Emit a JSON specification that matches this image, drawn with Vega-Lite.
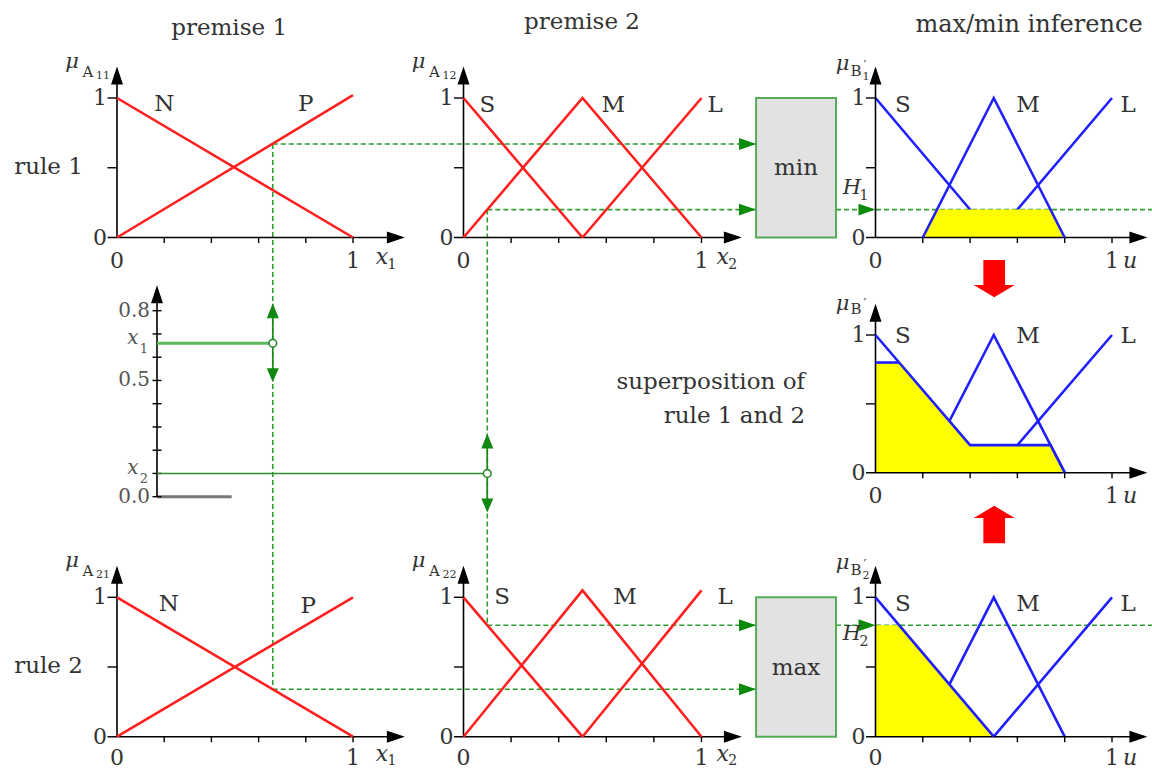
{
"$schema": "https://vega.github.io/schema/vega-lite/v6.json",
"width": 1152, "height": 770, "padding": 0, "autosize": {"type": "none"},
"background": "white",
"config": {"view": {"stroke": null}, "text": {"font": "DejaVu Serif", "fontSize": 23, "color": "#333"}},
"resolve": {"scale": {"x": "independent", "y": "independent"}},
"datasets": {
 "axP1": [
  {"k":"line","x":-0.04,"y":0,"x2":1.19,"y2":0},
  {"k":"line","x":0,"y":0,"x2":0,"y2":1.19},
  {"k":"glyph","g":"xhead","x":1.21,"y":0},
  {"k":"glyph","g":"yhead","x":0,"y":1.21},
  {"k":"glyph","g":"xtick","x":0.2,"y":0},{"k":"glyph","g":"xtick","x":0.4,"y":0},
  {"k":"glyph","g":"xtick","x":0.6,"y":0},{"k":"glyph","g":"xtick","x":0.8,"y":0},
  {"k":"glyph","g":"xtick","x":1,"y":0},
  {"k":"glyph","g":"ytick","x":0,"y":0.5},{"k":"glyph","g":"ytick","x":0,"y":1},
  {"k":"xl","x":0,"y":0,"t":"0"},{"k":"xl","x":1,"y":0,"t":"1"},
  {"k":"yl","x":0,"y":0,"t":"0"},{"k":"yl","x":0,"y":1,"t":"1"},
  {"k":"name","x":1.123,"y":0,"t":"x","s":"1"}
 ],
 "axP2": [
  {"k":"line","x":-0.04,"y":0,"x2":1.145,"y2":0},
  {"k":"line","x":0,"y":0,"x2":0,"y2":1.19},
  {"k":"glyph","g":"xhead","x":1.16,"y":0},
  {"k":"glyph","g":"yhead","x":0,"y":1.21},
  {"k":"glyph","g":"xtick","x":0.2,"y":0},{"k":"glyph","g":"xtick","x":0.4,"y":0},
  {"k":"glyph","g":"xtick","x":0.6,"y":0},{"k":"glyph","g":"xtick","x":0.8,"y":0},
  {"k":"glyph","g":"xtick","x":1,"y":0},
  {"k":"glyph","g":"ytick","x":0,"y":0.5},{"k":"glyph","g":"ytick","x":0,"y":1},
  {"k":"xl","x":0,"y":0,"t":"0"},{"k":"xl","x":1,"y":0,"t":"1"},
  {"k":"yl","x":0,"y":0,"t":"0"},{"k":"yl","x":0,"y":1,"t":"1"},
  {"k":"name","x":1.089,"y":0,"t":"x","s":"2"}
 ],
 "axU": [
  {"k":"line","x":-0.04,"y":0,"x2":1.125,"y2":0},
  {"k":"line","x":0,"y":0,"x2":0,"y2":1.19},
  {"k":"glyph","g":"xhead","x":1.14,"y":0},
  {"k":"glyph","g":"yhead","x":0,"y":1.21},
  {"k":"glyph","g":"xtick","x":0.2,"y":0},{"k":"glyph","g":"xtick","x":0.4,"y":0},
  {"k":"glyph","g":"xtick","x":0.6,"y":0},{"k":"glyph","g":"xtick","x":0.8,"y":0},
  {"k":"glyph","g":"xtick","x":1,"y":0},
  {"k":"glyph","g":"ytick","x":0,"y":0.5},{"k":"glyph","g":"ytick","x":0,"y":1},
  {"k":"xl","x":0,"y":0,"t":"0"},{"k":"xl","x":1,"y":0,"t":"1"},
  {"k":"yl","x":0,"y":0,"t":"0"},{"k":"yl","x":0,"y":1,"t":"1"},
  {"k":"name","x":1.076,"y":-0.03,"t":"u","s":""}
 ],
 "p1r1": [
  {"k":"link","x":0.66,"y":0.67,"x2":0.66,"y2":-3.24},
  {"k":"link","x":0.66,"y":0.67,"x2":2.708,"y2":0.67},
  {"k":"tip","x":2.708,"y":0.67},
  {"k":"curve","c":"N","x":0,"y":1},{"k":"curve","c":"N","x":1,"y":0},
  {"k":"curve","c":"P","x":0,"y":0},{"k":"curve","c":"P","x":1,"y":1.02},
  {"k":"lab","t":"N","x":0.2,"y":0.96},{"k":"lab","t":"P","x":0.8,"y":0.96},
  {"k":"lab","t":"premise 1","x":0.475,"y":1.5},
  {"k":"lab","t":"rule 1","x":-0.29,"y":0.505},
  {"k":"mu","x":0,"y":1.21,"a":"A","b":"11"}
 ],
 "p1r2": [
  {"k":"link","x":0.66,"y":0.34,"x2":2.708,"y2":0.34},
  {"k":"tip","x":2.708,"y":0.34},
  {"k":"curve","c":"N","x":0,"y":1},{"k":"curve","c":"N","x":1,"y":0},
  {"k":"curve","c":"P","x":0,"y":0},{"k":"curve","c":"P","x":1,"y":1},
  {"k":"lab","t":"N","x":0.22,"y":0.955},{"k":"lab","t":"P","x":0.81,"y":0.94},
  {"k":"lab","t":"rule 2","x":-0.29,"y":0.507},
  {"k":"mu","x":0,"y":1.21,"a":"A","b":"21"}
 ],
 "p2r1": [
  {"k":"link","x":0.1,"y":0.2,"x2":0.1,"y2":-2.779},
  {"k":"link","x":0.1,"y":0.2,"x2":1.229,"y2":0.2},
  {"k":"tip","x":1.229,"y":0.2},
  {"k":"curve","c":"S","x":0,"y":1},{"k":"curve","c":"S","x":0.5,"y":0},
  {"k":"curve","c":"M","x":0,"y":0},{"k":"curve","c":"M","x":0.5,"y":1},{"k":"curve","c":"M","x":1,"y":0},
  {"k":"curve","c":"L","x":0.5,"y":0},{"k":"curve","c":"L","x":1,"y":1},
  {"k":"lab","t":"S","x":0.1,"y":0.95},{"k":"lab","t":"M","x":0.629,"y":0.95},{"k":"lab","t":"L","x":1.057,"y":0.95},
  {"k":"lab","t":"premise 2","x":0.498,"y":1.545},
  {"k":"mu","x":0,"y":1.21,"a":"A","b":"12"}
 ],
 "p2r2": [
  {"k":"link","x":0.1,"y":0.8,"x2":1.229,"y2":0.8},
  {"k":"tip","x":1.229,"y":0.8},
  {"k":"curve","c":"S","x":0,"y":1},{"k":"curve","c":"S","x":0.5,"y":0},
  {"k":"curve","c":"M","x":0,"y":0},{"k":"curve","c":"M","x":0.5,"y":1.05},{"k":"curve","c":"M","x":1,"y":0},
  {"k":"curve","c":"L","x":0.5,"y":0},{"k":"curve","c":"L","x":1,"y":1.05},
  {"k":"lab","t":"S","x":0.162,"y":1.0},{"k":"lab","t":"M","x":0.679,"y":1.0},{"k":"lab","t":"L","x":1.099,"y":1.0},
  {"k":"mu","x":0,"y":1.21,"a":"A","b":"22"}
 ],
 "or1": [
  {"k":"link","x":-0.167,"y":0.2,"x2":1.169,"y2":0.2},
  {"k":"tip","x":0,"y":0.2},
  {"k":"box","x":-0.505,"x2":-0.167,"y":0,"y2":1},
  {"k":"lab","t":"min","x":-0.336,"y":0.5},
  {"k":"under","c":"S","x":0,"y":1},{"k":"under","c":"S","x":0.5,"y":0},
  {"k":"under","c":"L","x":0.5,"y":0},{"k":"under","c":"L","x":1,"y":1},
  {"k":"fill","x":0.2,"y":0},{"k":"fill","x":0.26,"y":0.2},{"k":"fill","x":0.74,"y":0.2},{"k":"fill","x":0.8,"y":0},
  {"k":"over","c":"M","x":0.2,"y":0},{"k":"over","c":"M","x":0.5,"y":1},{"k":"over","c":"M","x":0.8,"y":0},
  {"k":"lab","t":"S","x":0.116,"y":0.95},{"k":"lab","t":"M","x":0.645,"y":0.95},{"k":"lab","t":"L","x":1.068,"y":0.95},
  {"k":"title","t":"max/min inference","x":0.649,"y":1.523},
  {"k":"mu","x":0,"y":1.21,"a":"B","b":"1"},
  {"k":"H","x":-0.1,"y":0.356,"s":"1"}
 ],
 "os": [
  {"k":"under","c":"M","x":0.2,"y":0},{"k":"under","c":"M","x":0.5,"y":1},{"k":"under","c":"M","x":0.8,"y":0},
  {"k":"under","c":"L","x":0.5,"y":0},{"k":"under","c":"L","x":1,"y":1},
  {"k":"fill","x":0,"y":0.8},{"k":"fill","x":0.1,"y":0.8},{"k":"fill","x":0.4,"y":0.2},{"k":"fill","x":0.74,"y":0.2},{"k":"fill","x":0.8,"y":0},
  {"k":"over","c":"cap","x":0,"y":0.8},{"k":"over","c":"cap","x":0.1,"y":0.8},
  {"k":"over","c":"S","x":0,"y":1},{"k":"over","c":"S","x":0.4,"y":0.2},{"k":"over","c":"S","x":0.74,"y":0.2},{"k":"over","c":"S","x":0.8,"y":0},
  {"k":"lab","t":"S","x":0.116,"y":0.99},{"k":"lab","t":"M","x":0.645,"y":0.99},{"k":"lab","t":"L","x":1.068,"y":0.99},
  {"k":"rlab","t":"superposition of","x":-0.298,"y":0.66},
  {"k":"rlab","t":"rule 1 and 2","x":-0.298,"y":0.41},
  {"k":"mu","x":0,"y":1.21,"a":"B","b":""},
  {"k":"down","x":0.502,"y":1.409},
  {"k":"up","x":0.502,"y":-0.376}
 ],
 "or2": [
  {"k":"link","x":-0.167,"y":0.8,"x2":1.169,"y2":0.8},
  {"k":"tip","x":0,"y":0.8},
  {"k":"box","x":-0.505,"x2":-0.167,"y":0,"y2":1},
  {"k":"lab","t":"max","x":-0.336,"y":0.49},
  {"k":"under","c":"M","x":0.2,"y":0},{"k":"under","c":"M","x":0.5,"y":1},{"k":"under","c":"M","x":0.8,"y":0},
  {"k":"under","c":"L","x":0.5,"y":0},{"k":"under","c":"L","x":1,"y":1},
  {"k":"fill","x":0,"y":0.8},{"k":"fill","x":0.1,"y":0.8},{"k":"fill","x":0.5,"y":0},
  {"k":"over","c":"S","x":0,"y":1},{"k":"over","c":"S","x":0.5,"y":0},
  {"k":"lab","t":"S","x":0.116,"y":0.955},{"k":"lab","t":"M","x":0.645,"y":0.955},{"k":"lab","t":"L","x":1.068,"y":0.955},
  {"k":"mu","x":0,"y":1.21,"a":"B","b":"2"},
  {"k":"H","x":-0.1,"y":0.739,"s":"2"}
 ],
 "slider": [
  {"k":"bar","x":0.1695,"y":0,"x2":0.486,"y2":0},
  {"k":"line","x":0.1695,"y":0,"x2":0.1695,"y2":0.88},
  {"k":"glyph","g":"yhead","x":0.1695,"y":0.9},
  {"k":"glyph","g":"stick","x":0.1695,"y":0},{"k":"glyph","g":"stick","x":0.1695,"y":0.1},
  {"k":"glyph","g":"stick","x":0.1695,"y":0.2},{"k":"glyph","g":"stick","x":0.1695,"y":0.3},
  {"k":"glyph","g":"stick","x":0.1695,"y":0.4},{"k":"glyph","g":"stick","x":0.1695,"y":0.5},
  {"k":"glyph","g":"stick","x":0.1695,"y":0.6},{"k":"glyph","g":"stick","x":0.1695,"y":0.7},
  {"k":"glyph","g":"stick","x":0.1695,"y":0.8},
  {"k":"yl","x":0.1695,"y":0.8,"t":"0.8"},{"k":"yl","x":0.1695,"y":0.5,"t":"0.5"},{"k":"yl","x":0.1695,"y":0,"t":"0.0"},
  {"k":"xin","x":0.1695,"y":0.66,"t":"x","s":"1"},{"k":"xin","x":0.1695,"y":0.1,"t":"x","s":"2"},
  {"k":"g1","x":0.1695,"y":0.66,"x2":0.66,"y2":0.66},
  {"k":"g2","x":0.1695,"y":0.1,"x2":1.569,"y2":0.1},
  {"k":"thumb","x":0.66,"y":0.66},{"k":"thumb","x":1.569,"y":0.1}
 ]
},
"layer": [
 {
  "encoding": {
   "x": {"field":"x","type":"quantitative","scale":{"domain":[0,1],"range":[117,353],"nice":false,"zero":false},"axis":null},
   "y": {"field":"y","type":"quantitative","scale":{"domain":[0,1],"range":[237.5,98],"nice":false,"zero":false},"axis":null}
  },
  "layer": [
   {"data":{"name":"p1r1"},"transform":[{"filter":"datum.k=='link'"}],"mark":{"type":"rule","color":"#2ca02c","strokeWidth":1.6,"strokeDash":[5,3]},"encoding":{"x2":{"field":"x2"},"y2":{"field":"y2"}}},
   {"data":{"name":"p1r1"},"transform":[{"filter":"datum.k=='tip'"}],"mark":{"type":"point","shape":"M0,0L-2,-0.7L-2,0.7Z","size":289,"filled":true,"color":"#0b8a0b","opacity":1}},
   {"data":{"name":"axP1"},"transform":[{"filter":"datum.k=='line'"}],"mark":{"type":"rule","color":"black","strokeWidth":1.6},"encoding":{"x2":{"field":"x2"},"y2":{"field":"y2"}}},
   {"data":{"name":"axP1"},"transform":[{"filter":"datum.k=='glyph'"}],"mark":{"type":"point","filled":true,"color":"black","stroke":"black","strokeWidth":1.4,"opacity":1,"size":100},"encoding":{"shape":{"field":"g","type":"nominal","legend":null,"scale":{"domain":["xhead","yhead","xtick","ytick","stick"],"range":["M0,0L-3,-1L-3,1Z","M0,0L-1,3L1,3Z","M0,0L0,1.1","M0,0L-1.9,0","M-0.9,0L0.9,0"]}}}},
   {"data":{"name":"axP1"},"transform":[{"filter":"datum.k=='xl'"}],"mark":{"type":"text","fontSize":22,"dy":23},"encoding":{"text":{"field":"t"}}},
   {"data":{"name":"axP1"},"transform":[{"filter":"datum.k=='yl'"}],"mark":{"type":"text","fontSize":22,"align":"right","dx":-10},"encoding":{"text":{"field":"t"}}},
   {"data":{"name":"axP1"},"transform":[{"filter":"datum.k=='name'"}],"mark":{"type":"text","fontSize":22,"fontStyle":"italic","dy":19},"encoding":{"text":{"field":"t"}}},
   {"data":{"name":"axP1"},"transform":[{"filter":"datum.k=='name'"}],"mark":{"type":"text","fontSize":14,"dx":10,"dy":27},"encoding":{"text":{"field":"s"}}},
   {"data":{"name":"p1r1"},"transform":[{"filter":"datum.k=='curve'"}],"mark":{"type":"line","color":"#ff1f1f","strokeWidth":2.6},"encoding":{"detail":{"field":"c"}}},
   {"data":{"name":"p1r1"},"transform":[{"filter":"datum.k=='lab'"}],"mark":{"type":"text"},"encoding":{"text":{"field":"t"}}},
   {"data":{"name":"p1r1"},"transform":[{"filter":"datum.k=='mu'"}],"mark":{"type":"text","text":"μ","fontStyle":"italic","fontSize":21,"dx":-45,"dy":-7}},
   {"data":{"name":"p1r1"},"transform":[{"filter":"datum.k=='mu'"}],"mark":{"type":"text","fontSize":15,"dx":-29,"dy":3},"encoding":{"text":{"field":"a"}}},
   {"data":{"name":"p1r1"},"transform":[{"filter":"datum.k=='mu'"}],"mark":{"type":"text","fontSize":11,"dx":-14,"dy":7},"encoding":{"text":{"field":"b"}}}
  ]
 },
 {
  "encoding": {
   "x": {"field":"x","type":"quantitative","scale":{"domain":[0,1],"range":[463.5,701.5],"nice":false,"zero":false},"axis":null},
   "y": {"field":"y","type":"quantitative","scale":{"domain":[0,1],"range":[237.5,98],"nice":false,"zero":false},"axis":null}
  },
  "layer": [
   {"data":{"name":"p2r1"},"transform":[{"filter":"datum.k=='link'"}],"mark":{"type":"rule","color":"#2ca02c","strokeWidth":1.6,"strokeDash":[5,3]},"encoding":{"x2":{"field":"x2"},"y2":{"field":"y2"}}},
   {"data":{"name":"p2r1"},"transform":[{"filter":"datum.k=='tip'"}],"mark":{"type":"point","shape":"M0,0L-2,-0.7L-2,0.7Z","size":289,"filled":true,"color":"#0b8a0b","opacity":1}},
   {"data":{"name":"axP2"},"transform":[{"filter":"datum.k=='line'"}],"mark":{"type":"rule","color":"black","strokeWidth":1.6},"encoding":{"x2":{"field":"x2"},"y2":{"field":"y2"}}},
   {"data":{"name":"axP2"},"transform":[{"filter":"datum.k=='glyph'"}],"mark":{"type":"point","filled":true,"color":"black","stroke":"black","strokeWidth":1.4,"opacity":1,"size":100},"encoding":{"shape":{"field":"g","type":"nominal","legend":null,"scale":{"domain":["xhead","yhead","xtick","ytick","stick"],"range":["M0,0L-3,-1L-3,1Z","M0,0L-1,3L1,3Z","M0,0L0,1.1","M0,0L-1.9,0","M-0.9,0L0.9,0"]}}}},
   {"data":{"name":"axP2"},"transform":[{"filter":"datum.k=='xl'"}],"mark":{"type":"text","fontSize":22,"dy":23},"encoding":{"text":{"field":"t"}}},
   {"data":{"name":"axP2"},"transform":[{"filter":"datum.k=='yl'"}],"mark":{"type":"text","fontSize":22,"align":"right","dx":-10},"encoding":{"text":{"field":"t"}}},
   {"data":{"name":"axP2"},"transform":[{"filter":"datum.k=='name'"}],"mark":{"type":"text","fontSize":22,"fontStyle":"italic","dy":19},"encoding":{"text":{"field":"t"}}},
   {"data":{"name":"axP2"},"transform":[{"filter":"datum.k=='name'"}],"mark":{"type":"text","fontSize":14,"dx":10,"dy":27},"encoding":{"text":{"field":"s"}}},
   {"data":{"name":"p2r1"},"transform":[{"filter":"datum.k=='curve'"}],"mark":{"type":"line","color":"#ff1f1f","strokeWidth":2.6},"encoding":{"detail":{"field":"c"}}},
   {"data":{"name":"p2r1"},"transform":[{"filter":"datum.k=='lab'"}],"mark":{"type":"text"},"encoding":{"text":{"field":"t"}}},
   {"data":{"name":"p2r1"},"transform":[{"filter":"datum.k=='mu'"}],"mark":{"type":"text","text":"μ","fontStyle":"italic","fontSize":21,"dx":-45,"dy":-7}},
   {"data":{"name":"p2r1"},"transform":[{"filter":"datum.k=='mu'"}],"mark":{"type":"text","fontSize":15,"dx":-29,"dy":3},"encoding":{"text":{"field":"a"}}},
   {"data":{"name":"p2r1"},"transform":[{"filter":"datum.k=='mu'"}],"mark":{"type":"text","fontSize":11,"dx":-14,"dy":7},"encoding":{"text":{"field":"b"}}}
  ]
 },
 {
  "encoding": {
   "x": {"field":"x","type":"quantitative","scale":{"domain":[0,1],"range":[117,353],"nice":false,"zero":false},"axis":null},
   "y": {"field":"y","type":"quantitative","scale":{"domain":[0,1],"range":[736.7,597.3],"nice":false,"zero":false},"axis":null}
  },
  "layer": [
   {"data":{"name":"p1r2"},"transform":[{"filter":"datum.k=='link'"}],"mark":{"type":"rule","color":"#2ca02c","strokeWidth":1.6,"strokeDash":[5,3]},"encoding":{"x2":{"field":"x2"},"y2":{"field":"y2"}}},
   {"data":{"name":"p1r2"},"transform":[{"filter":"datum.k=='tip'"}],"mark":{"type":"point","shape":"M0,0L-2,-0.7L-2,0.7Z","size":289,"filled":true,"color":"#0b8a0b","opacity":1}},
   {"data":{"name":"axP1"},"transform":[{"filter":"datum.k=='line'"}],"mark":{"type":"rule","color":"black","strokeWidth":1.6},"encoding":{"x2":{"field":"x2"},"y2":{"field":"y2"}}},
   {"data":{"name":"axP1"},"transform":[{"filter":"datum.k=='glyph'"}],"mark":{"type":"point","filled":true,"color":"black","stroke":"black","strokeWidth":1.4,"opacity":1,"size":100},"encoding":{"shape":{"field":"g","type":"nominal","legend":null,"scale":{"domain":["xhead","yhead","xtick","ytick","stick"],"range":["M0,0L-3,-1L-3,1Z","M0,0L-1,3L1,3Z","M0,0L0,1.1","M0,0L-1.9,0","M-0.9,0L0.9,0"]}}}},
   {"data":{"name":"axP1"},"transform":[{"filter":"datum.k=='xl'"}],"mark":{"type":"text","fontSize":22,"dy":21},"encoding":{"text":{"field":"t"}}},
   {"data":{"name":"axP1"},"transform":[{"filter":"datum.k=='yl'"}],"mark":{"type":"text","fontSize":22,"align":"right","dx":-10},"encoding":{"text":{"field":"t"}}},
   {"data":{"name":"axP1"},"transform":[{"filter":"datum.k=='name'"}],"mark":{"type":"text","fontSize":22,"fontStyle":"italic","dy":17},"encoding":{"text":{"field":"t"}}},
   {"data":{"name":"axP1"},"transform":[{"filter":"datum.k=='name'"}],"mark":{"type":"text","fontSize":14,"dx":10,"dy":24},"encoding":{"text":{"field":"s"}}},
   {"data":{"name":"p1r2"},"transform":[{"filter":"datum.k=='curve'"}],"mark":{"type":"line","color":"#ff1f1f","strokeWidth":2.6},"encoding":{"detail":{"field":"c"}}},
   {"data":{"name":"p1r2"},"transform":[{"filter":"datum.k=='lab'"}],"mark":{"type":"text"},"encoding":{"text":{"field":"t"}}},
   {"data":{"name":"p1r2"},"transform":[{"filter":"datum.k=='mu'"}],"mark":{"type":"text","text":"μ","fontStyle":"italic","fontSize":21,"dx":-45,"dy":-7}},
   {"data":{"name":"p1r2"},"transform":[{"filter":"datum.k=='mu'"}],"mark":{"type":"text","fontSize":15,"dx":-29,"dy":3},"encoding":{"text":{"field":"a"}}},
   {"data":{"name":"p1r2"},"transform":[{"filter":"datum.k=='mu'"}],"mark":{"type":"text","fontSize":11,"dx":-14,"dy":7},"encoding":{"text":{"field":"b"}}}
  ]
 },
 {
  "encoding": {
   "x": {"field":"x","type":"quantitative","scale":{"domain":[0,1],"range":[463.5,701.5],"nice":false,"zero":false},"axis":null},
   "y": {"field":"y","type":"quantitative","scale":{"domain":[0,1],"range":[736.7,597.3],"nice":false,"zero":false},"axis":null}
  },
  "layer": [
   {"data":{"name":"p2r2"},"transform":[{"filter":"datum.k=='link'"}],"mark":{"type":"rule","color":"#2ca02c","strokeWidth":1.6,"strokeDash":[5,3]},"encoding":{"x2":{"field":"x2"},"y2":{"field":"y2"}}},
   {"data":{"name":"p2r2"},"transform":[{"filter":"datum.k=='tip'"}],"mark":{"type":"point","shape":"M0,0L-2,-0.7L-2,0.7Z","size":289,"filled":true,"color":"#0b8a0b","opacity":1}},
   {"data":{"name":"axP2"},"transform":[{"filter":"datum.k=='line'"}],"mark":{"type":"rule","color":"black","strokeWidth":1.6},"encoding":{"x2":{"field":"x2"},"y2":{"field":"y2"}}},
   {"data":{"name":"axP2"},"transform":[{"filter":"datum.k=='glyph'"}],"mark":{"type":"point","filled":true,"color":"black","stroke":"black","strokeWidth":1.4,"opacity":1,"size":100},"encoding":{"shape":{"field":"g","type":"nominal","legend":null,"scale":{"domain":["xhead","yhead","xtick","ytick","stick"],"range":["M0,0L-3,-1L-3,1Z","M0,0L-1,3L1,3Z","M0,0L0,1.1","M0,0L-1.9,0","M-0.9,0L0.9,0"]}}}},
   {"data":{"name":"axP2"},"transform":[{"filter":"datum.k=='xl'"}],"mark":{"type":"text","fontSize":22,"dy":21},"encoding":{"text":{"field":"t"}}},
   {"data":{"name":"axP2"},"transform":[{"filter":"datum.k=='yl'"}],"mark":{"type":"text","fontSize":22,"align":"right","dx":-10},"encoding":{"text":{"field":"t"}}},
   {"data":{"name":"axP2"},"transform":[{"filter":"datum.k=='name'"}],"mark":{"type":"text","fontSize":22,"fontStyle":"italic","dy":17},"encoding":{"text":{"field":"t"}}},
   {"data":{"name":"axP2"},"transform":[{"filter":"datum.k=='name'"}],"mark":{"type":"text","fontSize":14,"dx":10,"dy":24},"encoding":{"text":{"field":"s"}}},
   {"data":{"name":"p2r2"},"transform":[{"filter":"datum.k=='curve'"}],"mark":{"type":"line","color":"#ff1f1f","strokeWidth":2.6},"encoding":{"detail":{"field":"c"}}},
   {"data":{"name":"p2r2"},"transform":[{"filter":"datum.k=='lab'"}],"mark":{"type":"text"},"encoding":{"text":{"field":"t"}}},
   {"data":{"name":"p2r2"},"transform":[{"filter":"datum.k=='mu'"}],"mark":{"type":"text","text":"μ","fontStyle":"italic","fontSize":21,"dx":-45,"dy":-7}},
   {"data":{"name":"p2r2"},"transform":[{"filter":"datum.k=='mu'"}],"mark":{"type":"text","fontSize":15,"dx":-29,"dy":3},"encoding":{"text":{"field":"a"}}},
   {"data":{"name":"p2r2"},"transform":[{"filter":"datum.k=='mu'"}],"mark":{"type":"text","fontSize":11,"dx":-14,"dy":7},"encoding":{"text":{"field":"b"}}}
  ]
 },
 {
  "encoding": {
   "x": {"field":"x","type":"quantitative","scale":{"domain":[0,1],"range":[875.5,1112],"nice":false,"zero":false},"axis":null},
   "y": {"field":"y","type":"quantitative","scale":{"domain":[0,1],"range":[237.5,98],"nice":false,"zero":false},"axis":null}
  },
  "layer": [
   {"data":{"name":"or1"},"transform":[{"filter":"datum.k=='link'"}],"mark":{"type":"rule","color":"#2ca02c","strokeWidth":1.6,"strokeDash":[5,3]},"encoding":{"x2":{"field":"x2"},"y2":{"field":"y2"}}},
   {"data":{"name":"or1"},"transform":[{"filter":"datum.k=='box'"}],"mark":{"type":"rect","fill":"#e2e2e2","stroke":"#56ab56","strokeWidth":2},"encoding":{"x2":{"field":"x2"},"y2":{"field":"y2"}}},
   {"data":{"name":"or1"},"transform":[{"filter":"datum.k=='under'"}],"mark":{"type":"line","color":"#1f1fff","strokeWidth":2.6},"encoding":{"detail":{"field":"c"}}},
   {"data":{"name":"or1"},"transform":[{"filter":"datum.k=='fill'"}],"mark":{"type":"area","color":"#ffff00","opacity":1},"encoding":{"y2":{"datum":0}}},
   {"data":{"name":"axU"},"transform":[{"filter":"datum.k=='line'"}],"mark":{"type":"rule","color":"black","strokeWidth":1.6},"encoding":{"x2":{"field":"x2"},"y2":{"field":"y2"}}},
   {"data":{"name":"axU"},"transform":[{"filter":"datum.k=='glyph'"}],"mark":{"type":"point","filled":true,"color":"black","stroke":"black","strokeWidth":1.4,"opacity":1,"size":100},"encoding":{"shape":{"field":"g","type":"nominal","legend":null,"scale":{"domain":["xhead","yhead","xtick","ytick","stick"],"range":["M0,0L-3,-1L-3,1Z","M0,0L-1,3L1,3Z","M0,0L0,1.1","M0,0L-1.9,0","M-0.9,0L0.9,0"]}}}},
   {"data":{"name":"axU"},"transform":[{"filter":"datum.k=='xl'"}],"mark":{"type":"text","fontSize":22,"dy":23},"encoding":{"text":{"field":"t"}}},
   {"data":{"name":"axU"},"transform":[{"filter":"datum.k=='yl'"}],"mark":{"type":"text","fontSize":22,"align":"right","dx":-10},"encoding":{"text":{"field":"t"}}},
   {"data":{"name":"axU"},"transform":[{"filter":"datum.k=='name'"}],"mark":{"type":"text","fontSize":22,"fontStyle":"italic","dy":19},"encoding":{"text":{"field":"t"}}},
   {"data":{"name":"or1"},"transform":[{"filter":"datum.k=='over'"}],"mark":{"type":"line","color":"#1f1fff","strokeWidth":2.6},"encoding":{"detail":{"field":"c"}}},
   {"data":{"name":"or1"},"transform":[{"filter":"datum.k=='tip'"}],"mark":{"type":"point","shape":"M0,0L-2,-0.7L-2,0.7Z","size":289,"filled":true,"color":"#0b8a0b","opacity":1}},
   {"data":{"name":"or1"},"transform":[{"filter":"datum.k=='lab'"}],"mark":{"type":"text"},"encoding":{"text":{"field":"t"}}},
   {"data":{"name":"or1"},"transform":[{"filter":"datum.k=='title'"}],"mark":{"type":"text","fontSize":24},"encoding":{"text":{"field":"t"}}},
   {"data":{"name":"or1"},"transform":[{"filter":"datum.k=='H'"}],"mark":{"type":"text","text":"H","fontStyle":"italic","fontSize":21}},
   {"data":{"name":"or1"},"transform":[{"filter":"datum.k=='H'"}],"mark":{"type":"text","fontSize":14,"dx":12,"dy":8.5},"encoding":{"text":{"field":"s"}}},
   {"data":{"name":"or1"},"transform":[{"filter":"datum.k=='mu'"}],"mark":{"type":"text","text":"μ","fontStyle":"italic","fontSize":21,"dx":-33,"dy":-5}},
   {"data":{"name":"or1"},"transform":[{"filter":"datum.k=='mu'"}],"mark":{"type":"text","fontSize":15,"dx":-19.5,"dy":2},"encoding":{"text":{"field":"a"}}},
   {"data":{"name":"or1"},"transform":[{"filter":"datum.k=='mu'"}],"mark":{"type":"text","text":"′","fontSize":13,"dx":-10.5,"dy":-3}},
   {"data":{"name":"or1"},"transform":[{"filter":"datum.k=='mu'"}],"mark":{"type":"text","fontSize":11,"dx":-9.5,"dy":8},"encoding":{"text":{"field":"b"}}}
  ]
 },
 {
  "encoding": {
   "x": {"field":"x","type":"quantitative","scale":{"domain":[0,1],"range":[875.5,1112],"nice":false,"zero":false},"axis":null},
   "y": {"field":"y","type":"quantitative","scale":{"domain":[0,1],"range":[472.7,335],"nice":false,"zero":false},"axis":null}
  },
  "layer": [
   {"data":{"name":"os"},"transform":[{"filter":"datum.k=='under'"}],"mark":{"type":"line","color":"#1f1fff","strokeWidth":2.6},"encoding":{"detail":{"field":"c"}}},
   {"data":{"name":"os"},"transform":[{"filter":"datum.k=='fill'"}],"mark":{"type":"area","color":"#ffff00","opacity":1},"encoding":{"y2":{"datum":0}}},
   {"data":{"name":"axU"},"transform":[{"filter":"datum.k=='line'"}],"mark":{"type":"rule","color":"black","strokeWidth":1.6},"encoding":{"x2":{"field":"x2"},"y2":{"field":"y2"}}},
   {"data":{"name":"axU"},"transform":[{"filter":"datum.k=='glyph'"}],"mark":{"type":"point","filled":true,"color":"black","stroke":"black","strokeWidth":1.4,"opacity":1,"size":100},"encoding":{"shape":{"field":"g","type":"nominal","legend":null,"scale":{"domain":["xhead","yhead","xtick","ytick","stick"],"range":["M0,0L-3,-1L-3,1Z","M0,0L-1,3L1,3Z","M0,0L0,1.1","M0,0L-1.9,0","M-0.9,0L0.9,0"]}}}},
   {"data":{"name":"axU"},"transform":[{"filter":"datum.k=='xl'"}],"mark":{"type":"text","fontSize":22,"dy":23},"encoding":{"text":{"field":"t"}}},
   {"data":{"name":"axU"},"transform":[{"filter":"datum.k=='yl'"}],"mark":{"type":"text","fontSize":22,"align":"right","dx":-10},"encoding":{"text":{"field":"t"}}},
   {"data":{"name":"axU"},"transform":[{"filter":"datum.k=='name'"}],"mark":{"type":"text","fontSize":22,"fontStyle":"italic","dy":19},"encoding":{"text":{"field":"t"}}},
   {"data":{"name":"os"},"transform":[{"filter":"datum.k=='over'"}],"mark":{"type":"line","color":"#1f1fff","strokeWidth":2.6},"encoding":{"detail":{"field":"c"}}},
   {"data":{"name":"os"},"transform":[{"filter":"datum.k=='lab'"}],"mark":{"type":"text"},"encoding":{"text":{"field":"t"}}},
   {"data":{"name":"os"},"transform":[{"filter":"datum.k=='rlab'"}],"mark":{"type":"text","align":"right"},"encoding":{"text":{"field":"t"}}},
   {"data":{"name":"os"},"transform":[{"filter":"datum.k=='down'"}],"mark":{"type":"point","shape":"M-0.53,-0.91L0.53,-0.91L0.53,0.31L1,0.31L0,0.91L-1,0.31L-0.53,0.31Z","size":1681,"filled":true,"color":"#ff0000","opacity":1}},
   {"data":{"name":"os"},"transform":[{"filter":"datum.k=='up'"}],"mark":{"type":"point","shape":"M-0.53,0.91L0.53,0.91L0.53,-0.31L1,-0.31L0,-0.91L-1,-0.31L-0.53,-0.31Z","size":1681,"filled":true,"color":"#ff0000","opacity":1}},
   {"data":{"name":"os"},"transform":[{"filter":"datum.k=='mu'"}],"mark":{"type":"text","text":"μ","fontStyle":"italic","fontSize":21,"dx":-33,"dy":-2}},
   {"data":{"name":"os"},"transform":[{"filter":"datum.k=='mu'"}],"mark":{"type":"text","fontSize":15,"dx":-19.5,"dy":3},"encoding":{"text":{"field":"a"}}},
   {"data":{"name":"os"},"transform":[{"filter":"datum.k=='mu'"}],"mark":{"type":"text","text":"′","fontSize":13,"dx":-10.5,"dy":-2}}
  ]
 },
 {
  "encoding": {
   "x": {"field":"x","type":"quantitative","scale":{"domain":[0,1],"range":[875.5,1112],"nice":false,"zero":false},"axis":null},
   "y": {"field":"y","type":"quantitative","scale":{"domain":[0,1],"range":[736.7,597.3],"nice":false,"zero":false},"axis":null}
  },
  "layer": [
   {"data":{"name":"or2"},"transform":[{"filter":"datum.k=='link'"}],"mark":{"type":"rule","color":"#2ca02c","strokeWidth":1.6,"strokeDash":[5,3]},"encoding":{"x2":{"field":"x2"},"y2":{"field":"y2"}}},
   {"data":{"name":"or2"},"transform":[{"filter":"datum.k=='box'"}],"mark":{"type":"rect","fill":"#e2e2e2","stroke":"#56ab56","strokeWidth":2},"encoding":{"x2":{"field":"x2"},"y2":{"field":"y2"}}},
   {"data":{"name":"or2"},"transform":[{"filter":"datum.k=='under'"}],"mark":{"type":"line","color":"#1f1fff","strokeWidth":2.6},"encoding":{"detail":{"field":"c"}}},
   {"data":{"name":"or2"},"transform":[{"filter":"datum.k=='fill'"}],"mark":{"type":"area","color":"#ffff00","opacity":1},"encoding":{"y2":{"datum":0}}},
   {"data":{"name":"axU"},"transform":[{"filter":"datum.k=='line'"}],"mark":{"type":"rule","color":"black","strokeWidth":1.6},"encoding":{"x2":{"field":"x2"},"y2":{"field":"y2"}}},
   {"data":{"name":"axU"},"transform":[{"filter":"datum.k=='glyph'"}],"mark":{"type":"point","filled":true,"color":"black","stroke":"black","strokeWidth":1.4,"opacity":1,"size":100},"encoding":{"shape":{"field":"g","type":"nominal","legend":null,"scale":{"domain":["xhead","yhead","xtick","ytick","stick"],"range":["M0,0L-3,-1L-3,1Z","M0,0L-1,3L1,3Z","M0,0L0,1.1","M0,0L-1.9,0","M-0.9,0L0.9,0"]}}}},
   {"data":{"name":"axU"},"transform":[{"filter":"datum.k=='xl'"}],"mark":{"type":"text","fontSize":22,"dy":21},"encoding":{"text":{"field":"t"}}},
   {"data":{"name":"axU"},"transform":[{"filter":"datum.k=='yl'"}],"mark":{"type":"text","fontSize":22,"align":"right","dx":-10},"encoding":{"text":{"field":"t"}}},
   {"data":{"name":"axU"},"transform":[{"filter":"datum.k=='name'"}],"mark":{"type":"text","fontSize":22,"fontStyle":"italic","dy":17},"encoding":{"text":{"field":"t"}}},
   {"data":{"name":"or2"},"transform":[{"filter":"datum.k=='over'"}],"mark":{"type":"line","color":"#1f1fff","strokeWidth":2.6},"encoding":{"detail":{"field":"c"}}},
   {"data":{"name":"or2"},"transform":[{"filter":"datum.k=='tip'"}],"mark":{"type":"point","shape":"M0,0L-2,-0.7L-2,0.7Z","size":289,"filled":true,"color":"#0b8a0b","opacity":1}},
   {"data":{"name":"or2"},"transform":[{"filter":"datum.k=='lab'"}],"mark":{"type":"text"},"encoding":{"text":{"field":"t"}}},
   {"data":{"name":"or2"},"transform":[{"filter":"datum.k=='H'"}],"mark":{"type":"text","text":"H","fontStyle":"italic","fontSize":21}},
   {"data":{"name":"or2"},"transform":[{"filter":"datum.k=='H'"}],"mark":{"type":"text","fontSize":14,"dx":12,"dy":8.5},"encoding":{"text":{"field":"s"}}},
   {"data":{"name":"or2"},"transform":[{"filter":"datum.k=='mu'"}],"mark":{"type":"text","text":"μ","fontStyle":"italic","fontSize":21,"dx":-33,"dy":-5}},
   {"data":{"name":"or2"},"transform":[{"filter":"datum.k=='mu'"}],"mark":{"type":"text","fontSize":15,"dx":-19.5,"dy":2},"encoding":{"text":{"field":"a"}}},
   {"data":{"name":"or2"},"transform":[{"filter":"datum.k=='mu'"}],"mark":{"type":"text","text":"′","fontSize":13,"dx":-10.5,"dy":-3}},
   {"data":{"name":"or2"},"transform":[{"filter":"datum.k=='mu'"}],"mark":{"type":"text","fontSize":11,"dx":-9.5,"dy":8},"encoding":{"text":{"field":"b"}}}
  ]
 },
 {
  "encoding": {
   "x": {"field":"x","type":"quantitative","scale":{"domain":[0,1],"range":[117,353],"nice":false,"zero":false},"axis":null},
   "y": {"field":"y","type":"quantitative","scale":{"domain":[0,0.8],"range":[496.7,310.7],"nice":false,"zero":false},"axis":null}
  },
  "layer": [
   {"data":{"name":"slider"},"transform":[{"filter":"datum.k=='bar'"}],"mark":{"type":"rule","color":"#777","strokeWidth":3},"encoding":{"x2":{"field":"x2"},"y2":{"field":"y2"}}},
   {"data":{"name":"slider"},"transform":[{"filter":"datum.k=='line'"}],"mark":{"type":"rule","color":"black","strokeWidth":1.6},"encoding":{"x2":{"field":"x2"},"y2":{"field":"y2"}}},
   {"data":{"name":"slider"},"transform":[{"filter":"datum.k=='glyph'"}],"mark":{"type":"point","filled":true,"color":"black","stroke":"black","strokeWidth":1.4,"opacity":1,"size":100},"encoding":{"shape":{"field":"g","type":"nominal","legend":null,"scale":{"domain":["xhead","yhead","xtick","ytick","stick"],"range":["M0,0L-3,-1L-3,1Z","M0,0L-1,3L1,3Z","M0,0L0,1.1","M0,0L-1.9,0","M-0.9,0L0.9,0"]}}}},
   {"data":{"name":"slider"},"transform":[{"filter":"datum.k=='yl'"}],"mark":{"type":"text","fontSize":20,"align":"right","dx":-7,"color":"#555"},"encoding":{"text":{"field":"t"}}},
   {"data":{"name":"slider"},"transform":[{"filter":"datum.k=='xin'"}],"mark":{"type":"text","fontSize":20,"fontStyle":"italic","dx":-24,"dy":-5,"color":"#555"},"encoding":{"text":{"field":"t"}}},
   {"data":{"name":"slider"},"transform":[{"filter":"datum.k=='xin'"}],"mark":{"type":"text","fontSize":13,"dx":-13,"dy":6,"color":"#555"},"encoding":{"text":{"field":"s"}}},
   {"data":{"name":"slider"},"transform":[{"filter":"datum.k=='g1'"}],"mark":{"type":"rule","color":"#5cb85c","strokeWidth":3},"encoding":{"x2":{"field":"x2"},"y2":{"field":"y2"}}},
   {"data":{"name":"slider"},"transform":[{"filter":"datum.k=='g2'"}],"mark":{"type":"rule","color":"#2e8b2e","strokeWidth":1.6},"encoding":{"x2":{"field":"x2"},"y2":{"field":"y2"}}},
   {"data":{"name":"slider"},"transform":[{"filter":"datum.k=='thumb'"}],"mark":{"type":"point","shape":"M-0.04,-1.25L-0.3,-1.25L0,-2L0.3,-1.25L0.04,-1.25L0.04,1.25L0.3,1.25L0,1.95L-0.3,1.25L-0.04,1.25Z","size":1600,"filled":true,"color":"#118811","opacity":1}},
   {"data":{"name":"slider"},"transform":[{"filter":"datum.k=='thumb'"}],"mark":{"type":"point","shape":"circle","size":60,"filled":true,"fill":"white","stroke":"#2e8b2e","strokeWidth":1.6,"opacity":1}}
  ]
 }
]
}
